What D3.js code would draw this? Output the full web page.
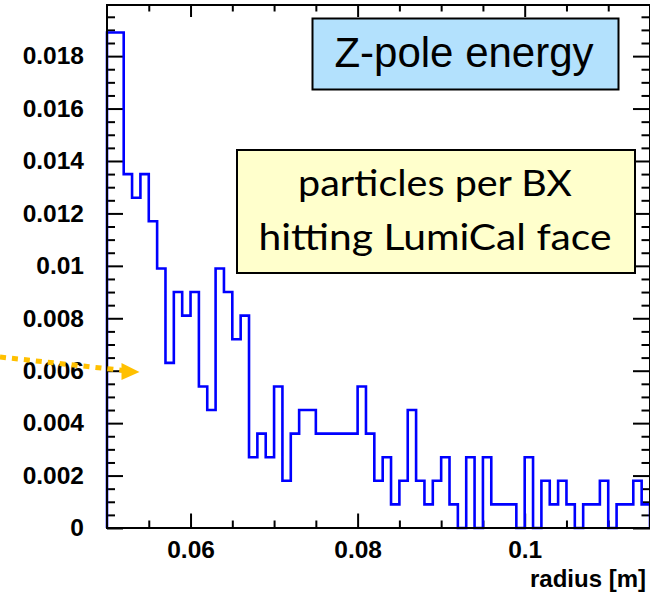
<!DOCTYPE html>
<html>
<head>
<meta charset="utf-8">
<script src="https://cdn.jsdelivr.net/npm/d3@7/dist/d3.min.js"></script>
<style>
  html, body { margin: 0; padding: 0; background: #fff; }
  svg { display: block; }
</style>
</head>
<body>
<svg id="chart" width="650" height="594"></svg>
<script>
// ---- data ----
const binLow = 0.05;
const binWidth = 0.001;
const binValues = [
  0.0189, 0.0189, 0.0135, 0.0126, 0.0135, 0.0117, 0.0099, 0.0063, 0.0090, 0.0081,
  0.0090, 0.0054, 0.0045, 0.0099, 0.0090, 0.0072, 0.0081, 0.0027, 0.0036, 0.0027,
  0.0054, 0.0018, 0.0036, 0.0045, 0.0045, 0.0036, 0.0036, 0.0036, 0.0036, 0.0036,
  0.0054, 0.0036, 0.0018, 0.0027, 0.0009, 0.0018, 0.0045, 0.0018, 0.0009, 0.0018,
  0.0027, 0.0009, 0.0000, 0.0027, 0.0000, 0.0027, 0.0009, 0.0009, 0.0009, 0.0000,
  0.0027, 0.0000, 0.0018, 0.0009, 0.0018, 0.0009, 0.0000, 0.0009, 0.0009, 0.0018,
  0.0000, 0.0009, 0.0009, 0.0018, 0.0009
];
const xDomain = [0.05, 0.115];
const yDomain = [0, 0.01995];
const xMajorTicks = [0.06, 0.08, 0.1];
const xMajorLabels = ["0.06", "0.08", "0.1"];
const xMinorTicks = [0.055, 0.065, 0.07, 0.075, 0.085, 0.09, 0.095, 0.105, 0.11];
const yMajorTicks = [0, 0.002, 0.004, 0.006, 0.008, 0.01, 0.012, 0.014, 0.016, 0.018];
const yMajorLabels = ["0", "0.002", "0.004", "0.006", "0.008", "0.01", "0.012", "0.014", "0.016", "0.018"];
const yMinorTicks = [0.0005, 0.001, 0.0015, 0.0025, 0.003, 0.0035, 0.0045, 0.005, 0.0055,
  0.0065, 0.007, 0.0075, 0.0085, 0.009, 0.0095, 0.0105, 0.011, 0.0115, 0.0125, 0.013, 0.0135,
  0.0145, 0.015, 0.0155, 0.0165, 0.017, 0.0175, 0.0185, 0.019, 0.0195];
const xTitle = "radius [m]";
const boxTitle = "Z-pole energy";
const boxLines = ["particles per BX", "hitting LumiCal face"];

// ---- layout ----
const W = 650, H = 594;
const L = 107, R = 650, T = 5, B = 528;

const svg = d3.select("#chart");
const x = d3.scaleLinear().domain(xDomain).range([L, R]);
const y = d3.scaleLinear().domain(yDomain).range([B, T]);

const axisFont = "'Liberation Sans', Arial, Helvetica, sans-serif";

// histogram outline
const pts = [[binLow, 0]];
binValues.forEach((v, i) => {
  const lo = binLow + i * binWidth, hi = binLow + (i + 1) * binWidth;
  pts.push([lo, v]); pts.push([hi, v]);
});
pts.push([binLow + binValues.length * binWidth, 0]);

const line = d3.line().x(d => x(d[0])).y(d => y(d[1]));

// axes (ticks inward)
function styleAxis(g) {
  g.select(".domain").remove();
  g.selectAll(".tick line").attr("stroke", "#000").attr("stroke-width", 2);
  g.selectAll(".tick text").attr("fill", "#000")
    .style("font-family", axisFont).style("font-weight", "bold").style("font-size", "24.5px");
}

// bottom
svg.append("g").attr("transform", `translate(0,${B})`)
  .call(d3.axisBottom(x).tickValues(xMajorTicks).tickFormat((d, i) => xMajorLabels[i]).tickSizeInner(-14.5).tickSizeOuter(0).tickPadding(13))
  .call(styleAxis);
svg.append("g").attr("transform", `translate(0,${B})`)
  .call(d3.axisBottom(x).tickValues(xMinorTicks).tickFormat("").tickSizeInner(-7.5).tickSizeOuter(0))
  .call(styleAxis);
// top
svg.append("g").attr("transform", `translate(0,${T})`)
  .call(d3.axisTop(x).tickValues(xMajorTicks).tickFormat("").tickSizeInner(-12).tickSizeOuter(0))
  .call(styleAxis);
svg.append("g").attr("transform", `translate(0,${T})`)
  .call(d3.axisTop(x).tickValues(xMinorTicks).tickFormat("").tickSizeInner(-6.5).tickSizeOuter(0))
  .call(styleAxis);
// left
svg.append("g").attr("transform", `translate(${L},0)`)
  .call(d3.axisLeft(y).tickValues(yMajorTicks).tickFormat((d, i) => yMajorLabels[i]).tickSizeInner(-16).tickSizeOuter(0).tickPadding(23))
  .call(styleAxis);
svg.append("g").attr("transform", `translate(${L},0)`)
  .call(d3.axisLeft(y).tickValues(yMinorTicks).tickFormat("").tickSizeInner(-8).tickSizeOuter(0))
  .call(styleAxis);
// right
svg.append("g").attr("transform", `translate(${R},0)`)
  .call(d3.axisRight(y).tickValues(yMajorTicks).tickFormat("").tickSizeInner(-17).tickSizeOuter(0))
  .call(styleAxis);
svg.append("g").attr("transform", `translate(${R},0)`)
  .call(d3.axisRight(y).tickValues(yMinorTicks).tickFormat("").tickSizeInner(-8.5).tickSizeOuter(0))
  .call(styleAxis);

// histogram
svg.append("path").attr("d", line(pts))
  .attr("fill", "none").attr("stroke", "#0000ff").attr("stroke-width", 2.6)
  .attr("stroke-linejoin", "miter");

// frame
svg.append("rect").attr("x", L).attr("y", T).attr("width", R - L).attr("height", B - T)
  .attr("fill", "none").attr("stroke", "#000").attr("stroke-width", 2);

// x title
svg.append("text").attr("x", 646).attr("y", 587).attr("text-anchor", "end")
  .style("font-family", axisFont).style("font-weight", "bold").style("font-size", "24px")
  .attr("fill", "#000").text(xTitle);

// Z-pole box
svg.append("rect").attr("x", 312.5).attr("y", 18.5).attr("width", 306).attr("height", 71)
  .attr("fill", "#b3e1fd").attr("stroke", "#000").attr("stroke-width", 2);
svg.append("text").attr("x", 464).attr("y", 67).attr("text-anchor", "middle")
  .style("font-family", axisFont).style("font-size", "42px").attr("fill", "#000").text(boxTitle);

// yellow box
svg.append("rect").attr("x", 237).attr("y", 150).attr("width", 398).attr("height", 123)
  .attr("fill", "#ffffcc").attr("stroke", "#000").attr("stroke-width", 2);
const ty = [196, 250];
const tw = [274, 353];
boxLines.forEach((s, i) => {
  svg.append("text").attr("x", 435).attr("y", ty[i]).attr("text-anchor", "middle")
    .attr("textLength", tw[i]).attr("lengthAdjust", "spacingAndGlyphs")
    .style("font-family", "Lato, 'Open Sans', sans-serif").style("font-size", "37px")
    .attr("fill", "#000").text(s);
});

// orange dotted arrow
svg.append("line").attr("x1", 0).attr("y1", 357).attr("x2", 124).attr("y2", 370.5)
  .attr("stroke", "#ffc000").attr("stroke-width", 5).attr("stroke-dasharray", "6 6");
svg.append("path").attr("d", "M121.5,363 L139.5,372 L121.5,380 Z").attr("fill", "#ffc000");
</script>
</body>
</html>
